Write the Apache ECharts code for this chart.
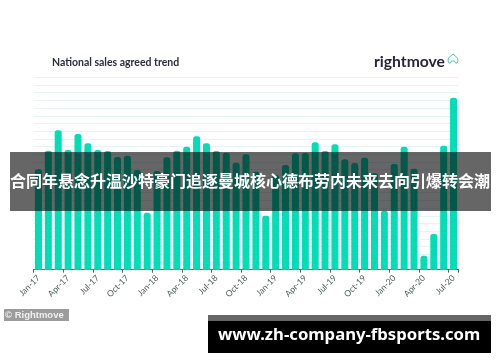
<!DOCTYPE html>
<html><head><meta charset="utf-8">
<style>html,body{margin:0;padding:0;background:#fff}#c{width:500px;height:362px}</style>
<script src="https://cdn.jsdelivr.net/npm/echarts@6/dist/echarts.min.js"></script>
</head><body><div id="c"></div>
<script>
const years = ['17','18','19','20'];
const monthNames = ['Jan','Feb','Mar','Apr','May','Jun','Jul','Aug','Sep','Oct','Nov','Dec'];
const categories = [];
for (const y of years) for (const m of monthNames) if (categories.length < 43) categories.push(m + '-' + y);
const salesAgreed = [130.5,154.6,181.1,155.5,176.3,164.2,155.5,154.2,146.4,148.1,129.5,74,
  128.2,146,154.6,159.8,173.3,164.2,154.2,152,139,150,127.3,70.2,
  123,136,151.3,151.6,165.5,154.2,163,143.5,138.6,145.5,125.3,76.7,
  137.3,159.8,131.2,18.2,46.4,161.1,223.5];
const titleText = 'National sales agreed trend';
const logoText = 'rightmove';
const creditText = '© Rightmove';
const headline = '合同年悬念升温沙特豪门追逐曼城核心德布劳内未来去向引爆转会潮';
const siteText = 'www.zh-company-fbsports.com';

const chart = echarts.init(document.getElementById('c'), null, {renderer:'canvas'});
chart.setOption({
  animation:false,
  backgroundColor:'#fff',
  grid:{left:33.5,right:41.5,top:77.3,height:192.4,containLabel:false},
  xAxis:{type:'category',data:categories,boundaryGap:true,
    axisLine:{lineStyle:{color:'#3f7f72',width:1}},
    axisTick:{show:true,interval:2,length:3,lineStyle:{color:'#4a6b64'}},
    axisLabel:{interval:2,rotate:45,fontSize:8.5,color:'#4a5a58',margin:7,fontFamily:'Lato'},
    splitLine:{show:false}},
  yAxis:{type:'value',min:0,max:250,interval:10,
    axisLine:{show:false},axisTick:{show:false},axisLabel:{show:false},
    splitLine:{lineStyle:{color:'#e4f5f2',width:1}}},
  series:[{type:'bar',data:salesAgreed,barWidth:7,
    itemStyle:{color:'#00deb6',borderRadius:[2.5,2.5,0,0]},z:2}],
  graphic:[
    {type:'text',x:52,y:57,z:5,style:{text:titleText,font:'bold 10.5px Lato',fill:'#2a2d3a'}},
    {type:'text',x:374,y:54,z:5,style:{text:logoText,font:'bold 15.7px Lato',fill:'#262637'}},
    {type:'polyline',z:5,shape:{points:[[449,63],[448,61],[448.5,58],[453,54],[457.5,58],[458,61],[457,63],[455.5,63],[454.5,61],[451.5,61],[450.5,63],[449,63]]},
      style:{fill:'none',stroke:'#4fc7ae',lineWidth:1}},
    {type:'rect',z:10,shape:{x:10,y:152,width:481,height:59},style:{fill:'rgba(0,0,0,0.6)'}},
    {type:'text',z:11,x:10,y:173,style:{text:headline,font:'bold 16px "Noto Sans CJK SC"',fill:'#fff'}},
    {type:'rect',z:10,shape:{x:4,y:309,width:65,height:12},style:{fill:'#9c9c9c'}},
    {type:'text',z:11,x:5,y:310,style:{text:creditText,font:'bold 9.5px "Liberation Sans"',fill:'#f0f0f0'}},
    {type:'rect',z:10,shape:{x:208,y:315,width:283,height:6},style:{fill:'#666'}},
    {type:'rect',z:10,shape:{x:208,y:321,width:283,height:32},style:{fill:'#000'}},
    {type:'text',z:11,x:218,y:327,style:{text:siteText,font:'bold 16.7px "Noto Sans"',fill:'#fff'}}
  ]
});
</script></body></html>
